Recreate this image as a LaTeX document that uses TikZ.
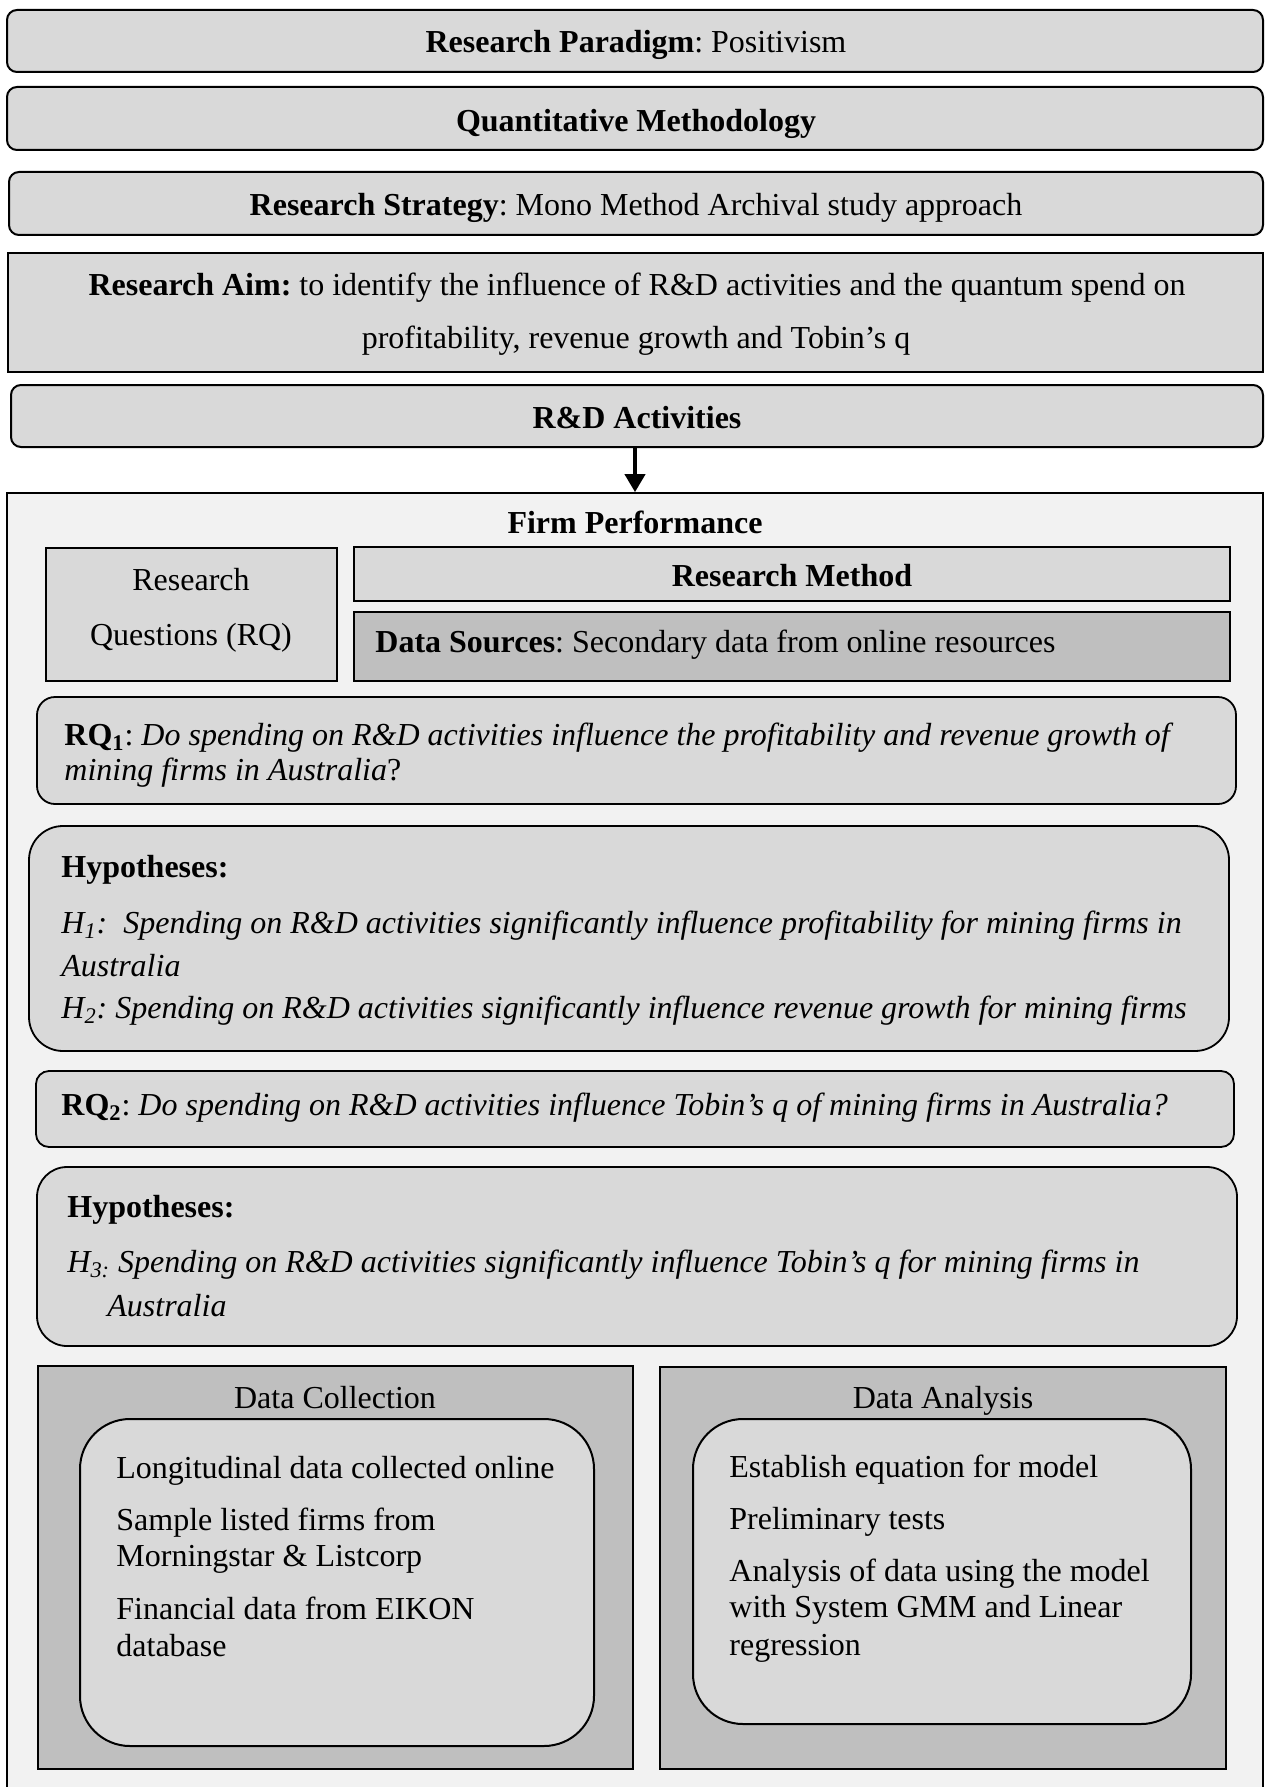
\documentclass[tikz,border=0pt]{standalone}
\usepackage{fontspec}
\setmainfont{Liberation Serif}
\usetikzlibrary{fit,arrows.meta}
\definecolor{boxgray}{HTML}{D9D9D9}
\definecolor{deepgray}{HTML}{BFBFBF}
\definecolor{panelgray}{HTML}{F2F2F2}
\frenchspacing

\begin{document}
\begin{tikzpicture}[x=0.5pt,y=-0.5pt,
  frame/.style={draw=black, line width=0.9pt, fill=boxgray, inner sep=0pt},
  topbox/.style={frame, line width=1pt, rounded corners=5pt},
  txt/.style={inner sep=0pt, font=\fontsize{16pt}{19pt}\selectfont},
  lt/.style={txt, anchor=base west},
  ct/.style={txt, anchor=base},
  flow/.style={line width=2pt, -{Triangle[length=9pt,width=10pt]}},
]
\useasboundingbox (0,0) rectangle (1264,1787);

% ---- header bands ----
\node[topbox, fit={(7,10) (1263,72)}] (paradigm) {};
\node[ct] (paradigmtxt) at (636,53) {\textbf{Research Paradigm}: Positivism};

\node[topbox, fit={(7,87) (1263,150)}] (quant) {};
\node[ct] (quanttxt) at (636,132) {\textbf{Quantitative Methodology}};

\node[topbox, fit={(9,172) (1263,235)}] (strategy) {};
\node[ct] (strategytxt) at (636,216) {\textbf{Research Strategy}: Mono Method Archival study approach};

\node[frame, line width=1pt, fit={(8,253) (1263,372)}] (aim) {};
\node[ct] (aimone) at (637,295) {\textbf{Research Aim:} to identify the influence of R\&D activities and the quantum spend on};
\node[ct] (aimtwo) at (636,348) {profitability, revenue growth and Tobin’s q};

\node[topbox, fit={(11,385) (1263,447)}] (rd) {};
\node[ct] (rdtxt) at (637,428) {\textbf{R\&D Activities}};

% ---- firm performance panel ----
\node[draw=black, line width=0.85pt, fill=panelgray, inner sep=0pt, fit={(7,493) (1263,1800)}] (firm) {};
\draw[flow] (rd.south -| firm.north) -- (firm.north);
\node[ct] (firmtxt) at (635,533) {\textbf{Firm Performance}};

\node[frame, fit={(46,548) (337,681)}] (rq) {};
\node[ct] (rqone) at (191,590) {Research};
\node[ct] (rqtwo) at (191,645) {Questions (RQ)};

\node[frame, fit={(354,547) (1230,601)}] (rmethod) {};
\node[ct] (rmethodtxt) at (792,586) {\textbf{Research Method}};

\node[frame, fill=deepgray, fit={(354,612) (1230,681)}] (dsources) {};
\node[lt] (dsourcestxt) at (375,652) {\textbf{Data Sources}: Secondary data from online resources};

% ---- research question 1 ----
\node[frame, rounded corners=9pt, fit={(37,697) (1236,804)}] (rqa) {};
\node[lt] (rqaone) at (64,745) {\textbf{RQ\textsubscript{1}}: \textit{Do spending on R\&D activities influence the profitability and revenue growth of}};
\node[lt] (rqatwo) at (64,780) {\textit{mining firms in Australia}?};

\node[frame, rounded corners=17pt, fit={(29,826) (1229,1051)}] (hypa) {};
\node[lt] (hypahead) at (61,877) {\textbf{Hypotheses:}};
\node[lt] (hypaone) at (61,933) {\textit{H\textsubscript{1}:\ \ Spending on R\&D activities significantly influence profitability for mining firms in}};
\node[lt] (hypatwo) at (61,976) {\textit{Australia}};
\node[lt] (hypathree) at (61,1018) {\textit{H\textsubscript{2}: Spending on R\&D activities significantly influence revenue growth for mining firms}};

% ---- research question 2 ----
\node[frame, rounded corners=6.5pt, fit={(36,1071) (1234,1147)}] (rqb) {};
\node[lt] (rqbtxt) at (61,1115) {\textbf{RQ\textsubscript{2}}: \textit{Do spending on R\&D activities influence Tobin’s q of mining firms in Australia?}};

\node[frame, rounded corners=15pt, fit={(37,1167) (1237,1346)}] (hypb) {};
\node[lt] (hypbhead) at (67,1217) {\textbf{Hypotheses:}};
\node[lt] (hypbone) at (67,1272) {\textit{H\textsubscript{3:} Spending on R\&D activities significantly influence Tobin’s q for mining firms in}};
\node[lt] (hypbtwo) at (107,1316) {\textit{Australia}};

% ---- data collection ----
\node[frame, fill=deepgray, fit={(38,1366) (633,1769)}] (dcoll) {};
\node[ct] (dcolltxt) at (335,1408) {Data Collection};
\node[frame, line width=1pt, rounded corners=25pt, fit={(80,1419) (594,1746)}] (dcollin) {};
\node[lt] (dcone) at (116,1478) {Longitudinal data collected online};
\node[lt] (dctwo) at (116,1530) {Sample listed firms from};
\node[lt] (dcthree) at (116,1566) {Morningstar \& Listcorp};
\node[lt] (dcfour) at (116,1619) {Financial data from EIKON};
\node[lt] (dcfive) at (116,1656) {database};

% ---- data analysis ----
\node[frame, fill=deepgray, fit={(660,1367) (1226,1769)}] (danal) {};
\node[ct] (danaltxt) at (943,1408) {Data Analysis};
\node[frame, line width=1pt, rounded corners=25pt, fit={(693,1419) (1191,1724)}] (danalin) {};
\node[lt] (daone) at (729,1477) {Establish equation for model};
\node[lt] (datwo) at (729,1529) {Preliminary tests};
\node[lt] (dathree) at (729,1581) {Analysis of data using the model};
\node[lt] (dafour) at (729,1617) {with System GMM and Linear};
\node[lt] (dafive) at (729,1655) {regression};
\end{tikzpicture}
\end{document}
